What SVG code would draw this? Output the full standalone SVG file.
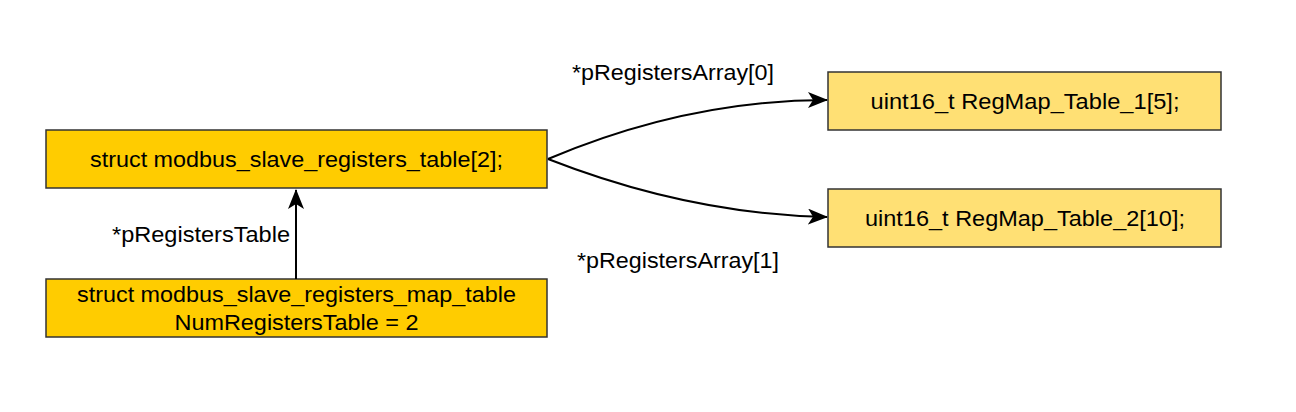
<svg xmlns="http://www.w3.org/2000/svg" width="1296" height="412" viewBox="0 0 1296 412">
<style>
.box{stroke:#333;stroke-width:1.5}
.dark{fill:#FFCC00}
.light{fill:#FFE074}
text{font-family:"Liberation Sans",Arial,sans-serif;font-size:22.5px;fill:#000}
.c{text-anchor:middle}
.edge{fill:none;stroke:#000;stroke-width:2}
</style>
<defs>
<marker id="arr" viewBox="0 0 20 16" refX="19" refY="8" markerWidth="20" markerHeight="16" markerUnits="userSpaceOnUse" orient="auto">
<path d="M0,0 L20,8 L0,16 L5,8 Z" fill="#000"/>
</marker>
</defs>
<g id="node-table">
<rect class="box dark" x="46" y="130" width="501" height="58"/>
<text class="c" x="296.5" y="167" textLength="413" lengthAdjust="spacingAndGlyphs">struct modbus_slave_registers_table[2];</text>
</g>
<g id="node-map">
<rect class="box dark" x="46" y="279" width="501" height="58"/>
<text class="c" x="296.5" y="302" textLength="439" lengthAdjust="spacingAndGlyphs">struct modbus_slave_registers_map_table</text>
<text class="c" x="296.5" y="330" textLength="244" lengthAdjust="spacingAndGlyphs">NumRegistersTable = 2</text>
</g>
<g id="node-reg1">
<rect class="box light" x="828" y="72" width="393" height="58"/>
<text class="c" x="1025" y="109" textLength="309" lengthAdjust="spacingAndGlyphs">uint16_t RegMap_Table_1[5];</text>
</g>
<g id="node-reg2">
<rect class="box light" x="828" y="189" width="393" height="58"/>
<text class="c" x="1025" y="226" textLength="320" lengthAdjust="spacingAndGlyphs">uint16_t RegMap_Table_2[10];</text>
</g>
<g id="connectors">
<path class="edge" d="M296,279 L296,190" marker-end="url(#arr)"/>
<path class="edge" d="M548,159 C640,120 730,100 827,100" marker-end="url(#arr)"/>
<path class="edge" d="M548,159 C640,195 730,215 827,217" marker-end="url(#arr)"/>
<text x="290" y="242" text-anchor="end" textLength="178" lengthAdjust="spacingAndGlyphs">*pRegistersTable</text>
<text x="572" y="80" textLength="202" lengthAdjust="spacingAndGlyphs">*pRegistersArray[0]</text>
<text x="577" y="268" textLength="202" lengthAdjust="spacingAndGlyphs">*pRegistersArray[1]</text>
</g>
</svg>
